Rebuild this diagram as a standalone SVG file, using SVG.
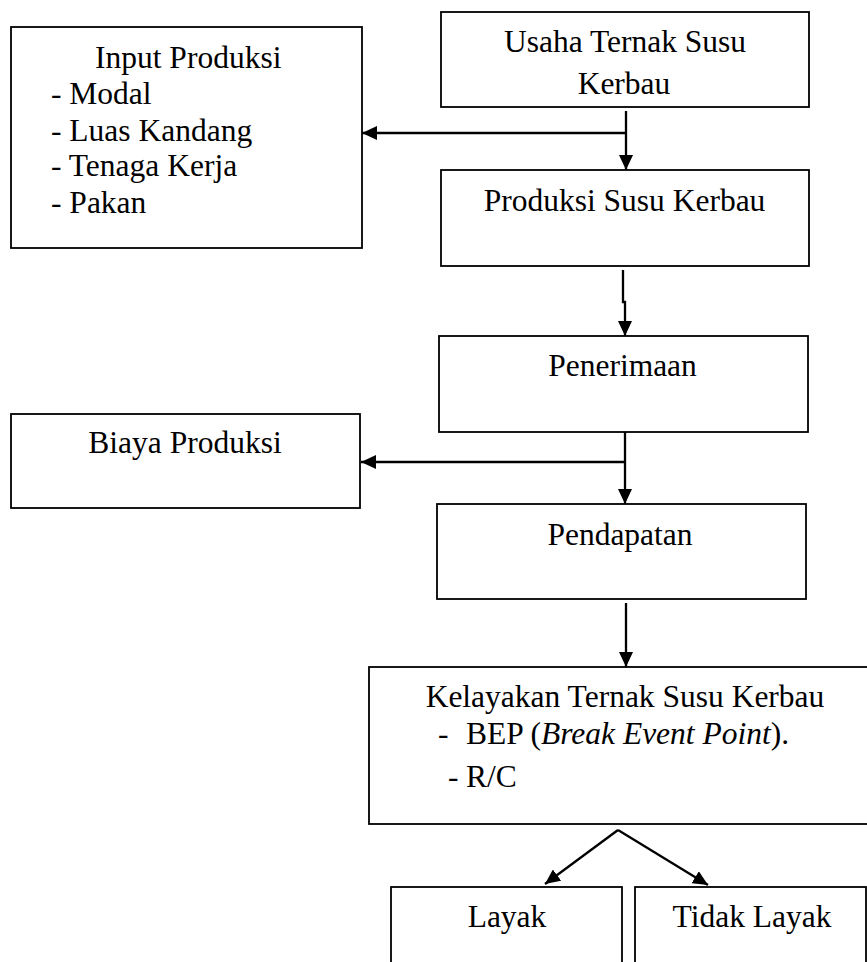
<svg xmlns="http://www.w3.org/2000/svg" width="867" height="962" viewBox="0 0 867 962">
<defs>
<style>
.box{fill:#fff;stroke:#000;stroke-width:1.8}
.t{font-family:"Liberation Serif","Times New Roman",serif;font-size:31.5px;fill:#000}
.c{text-anchor:middle}
.con{fill:none;stroke:#000;stroke-width:2.3}
</style>
<marker id="ah" viewBox="0 0 15 14" refX="15" refY="7" markerWidth="15" markerHeight="14" markerUnits="userSpaceOnUse" orient="auto">
<path d="M0,0 L15,7 L0,14 z" fill="#000"/>
</marker>
</defs>
<rect width="867" height="962" fill="#fff"/>
<g id="input">
<rect class="box" x="11" y="27" width="351" height="221"/>
<text class="t" x="95" y="68">Input Produksi</text>
<text class="t" x="51" y="104">- Modal</text>
<text class="t" x="51" y="141">- Luas Kandang</text>
<text class="t" x="51" y="176">- Tenaga Kerja</text>
<text class="t" x="51" y="213">- Pakan</text>
</g>
<g id="usaha">
<rect class="box" x="441" y="12" width="368" height="95"/>
<text class="t c" x="625" y="52">Usaha Ternak Susu</text>
<text class="t c" x="624" y="94">Kerbau</text>
</g>
<g id="produksi">
<rect class="box" x="441" y="170" width="368" height="96"/>
<text class="t c" x="624.5" y="211">Produksi Susu Kerbau</text>
</g>
<g id="penerimaan">
<rect class="box" x="439" y="336" width="369" height="96"/>
<text class="t c" x="622.5" y="376">Penerimaan</text>
</g>
<g id="biaya">
<rect class="box" x="11" y="414" width="349" height="94"/>
<text class="t c" x="185" y="453">Biaya Produksi</text>
</g>
<g id="pendapatan">
<rect class="box" x="437" y="504" width="369" height="95"/>
<text class="t c" x="620" y="545">Pendapatan</text>
</g>
<g id="kelayakan">
<rect class="box" x="369" y="667" width="520" height="157"/>
<text class="t c" x="625" y="707">Kelayakan Ternak Susu Kerbau</text>
<text class="t" y="744"><tspan x="438">-</tspan><tspan x="466">BEP (</tspan><tspan font-style="italic">Break Event Point</tspan>).</text>
<text class="t" y="787"><tspan x="448">-</tspan><tspan x="466">R/C</tspan></text>
</g>
<g id="layak">
<rect class="box" x="391" y="887" width="231" height="90"/>
<text class="t c" x="507" y="927">Layak</text>
</g>
<g id="tidak-layak">
<rect class="box" x="635" y="887" width="231" height="90"/>
<text class="t c" x="752" y="927">Tidak Layak</text>
</g>
<g id="connectors">
<path class="con" d="M626,111 V170" marker-end="url(#ah)"/>
<path class="con" d="M626,133 H362" marker-end="url(#ah)"/>
<path class="con" d="M623,270 V302 H625 V336" marker-end="url(#ah)"/>
<path class="con" d="M625,432 V504" marker-end="url(#ah)"/>
<path class="con" d="M625,462 H361" marker-end="url(#ah)"/>
<path class="con" d="M626,603 V667" marker-end="url(#ah)"/>
<path class="con" d="M618,830 L545,884" marker-end="url(#ah)"/>
<path class="con" d="M618,830 L708,885" marker-end="url(#ah)"/>
</g>
</svg>
